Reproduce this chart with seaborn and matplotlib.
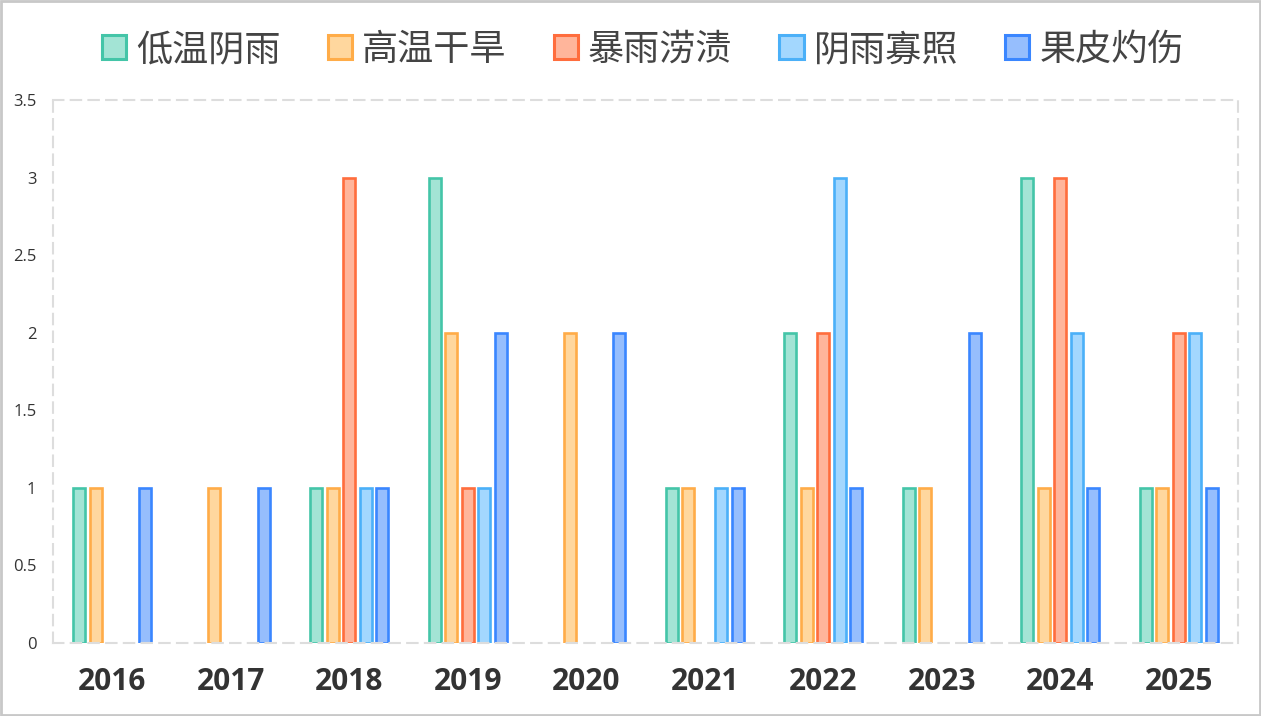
import matplotlib
matplotlib.use("Agg")
import matplotlib.pyplot as plt
import seaborn as sns
import pandas as pd
from matplotlib.patches import Patch, Rectangle

years = ["2016", "2017", "2018", "2019", "2020", "2021", "2022", "2023", "2024", "2025"]
series = ["低温阴雨", "高温干旱", "暴雨涝渍", "阴雨寡照", "果皮灼伤"]
low_temp_rain = [1, 0, 1, 3, 0, 1, 2, 1, 3, 1]
heat_drought = [1, 1, 1, 2, 2, 1, 1, 1, 1, 1]
rainstorm = [0, 0, 3, 1, 0, 0, 2, 0, 3, 2]
rain_low_sun = [0, 0, 1, 1, 0, 1, 3, 0, 2, 2]
sunburn = [1, 1, 1, 2, 2, 1, 1, 2, 1, 1]
values = [low_temp_rain, heat_drought, rainstorm, rain_low_sun, sunburn]

edge_colors = ["#44C5A8", "#FFAC48", "#FF6D3D", "#4BB0F8", "#3A86FF"]
fill_colors = ["#A3E4D5", "#FFD79E", "#FFB59B", "#A3D7FE", "#96BEFD"]

rows = []
for s, vals in zip(series, values):
    for y, v in zip(years, vals):
        rows.append({"year": y, "series": s, "value": v})
df = pd.DataFrame(rows)

sns.set_theme(style="white")
plt.rcParams["font.family"] = ["Noto Sans CJK SC", "DejaVu Sans"]

fig = plt.figure(figsize=(12.61, 7.16), dpi=100)
ax = fig.add_axes([53 / 1261, 1 - 643 / 716, (1238 - 53) / 1261, (643 - 100) / 716])

sns.barplot(data=df, x="year", y="value", hue="series", order=years, hue_order=series,
            palette=fill_colors, saturation=1, width=0.7, gap=0.28, ax=ax,
            legend=False, errorbar=None)

for cont, ec in zip(ax.containers, edge_colors):
    for bar in cont:
        bar.set_edgecolor(ec)
        bar.set_linewidth(1.9)
        if bar.get_height() == 0:
            bar.set_visible(False)

ax.set_xlim(-0.5, len(years) - 0.5)
ax.set_ylim(0, 3.5)
ax.set_yticks([0, 0.5, 1, 1.5, 2, 2.5, 3, 3.5])
ax.set_yticklabels(["0", "0.5", "1", "1.5", "2", "2.5", "3", "3.5"])
ax.set_xlabel("")
ax.set_ylabel("")
ax.tick_params(axis="y", length=0, pad=12, labelsize=12, labelcolor="#333333")
ax.tick_params(axis="x", length=0, pad=17, labelsize=21.5, labelcolor="#333333")
for lab in ax.get_xticklabels():
    lab.set_fontweight("bold")
    lab.set_family(["Open Sans", "DejaVu Sans"])
for lab in ax.get_yticklabels():
    lab.set_family(["Open Sans", "DejaVu Sans"])

for sp in ax.spines.values():
    sp.set_visible(True)
    sp.set_color("#dddddd")
    sp.set_linewidth(1.5)
    sp.set_linestyle((0, (5, 3.5)))
ax.grid(False)

handles = [Patch(facecolor=f, edgecolor=e, linewidth=2.2) for f, e in zip(fill_colors, edge_colors)]
leg = fig.legend(handles, series, loc="center", bbox_to_anchor=(643 / 1261, 1 - 50 / 716), ncol=5,
                 frameon=False, fontsize=26, handlelength=0.67, handleheight=0.64,
                 handletextpad=0.28, columnspacing=1.3)
for t in leg.get_texts():
    t.set_color("#444444")

fig.patches.append(Rectangle((0.001, 0.0015), 0.998, 0.997, transform=fig.transFigure,
                             fill=False, edgecolor="#c8c8c8", linewidth=2, zorder=10))

fig.savefig("out.png", dpi=100, facecolor="white")
